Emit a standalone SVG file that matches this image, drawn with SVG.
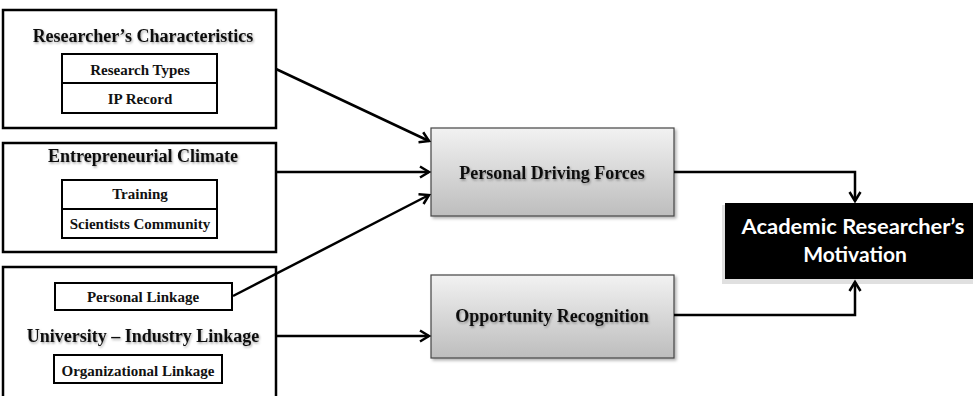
<svg xmlns="http://www.w3.org/2000/svg" width="973" height="396" viewBox="0 0 973 396">
<style>
.outer{fill:#fff;stroke:#000;stroke-width:2.5}
.inner{fill:#fff;stroke:#000;stroke-width:2}
.grad{fill:url(#g);stroke:#444;stroke-width:1.2}
.t{font-family:"Liberation Serif",serif;font-weight:bold;text-anchor:middle;fill:#111}
.tt{font-size:18px;filter:url(#ts)}
.ti{font-size:15px}
.w{font-family:Lato,"Open Sans",sans-serif;font-weight:bold;font-size:21px;fill:#fff;text-anchor:middle}
.c{fill:none;stroke:#000;stroke-width:2.5}
</style>
<defs>
<linearGradient id="g" x1="0" y1="0" x2="0" y2="1">
<stop offset="0" stop-color="#f2f2f2"/>
<stop offset="1" stop-color="#bdbdbd"/>
</linearGradient>
<filter id="ts" x="-5%" y="-30%" width="110%" height="160%">
<feDropShadow dx="1" dy="1.5" stdDeviation="1" flood-color="#000" flood-opacity="0.35"/>
</filter>
<filter id="bs" x="-5%" y="-10%" width="115%" height="125%">
<feDropShadow dx="2" dy="2" stdDeviation="1.5" flood-color="#000" flood-opacity="0.3"/>
</filter>
<marker id="a" markerUnits="userSpaceOnUse" markerWidth="14" markerHeight="14" refX="11" refY="7" orient="auto">
<path d="M2,1.5 L11,7 L2,12.5" fill="none" stroke="#000" stroke-width="2.5"/>
</marker>
</defs>

<g id="researchers-characteristics">
<rect class="outer" x="3" y="10" width="273" height="118"/>
<text class="t tt" x="143" y="42">Researcher’s Characteristics</text>
<rect class="inner" x="62" y="54" width="155" height="59"/>
<line x1="62" y1="83" x2="217" y2="83" stroke="#000" stroke-width="2"/>
<text class="t ti" x="140" y="75">Research Types</text>
<text class="t ti" x="140" y="104">IP Record</text>
</g>

<g id="entrepreneurial-climate">
<rect class="outer" x="3" y="143" width="273" height="109"/>
<text class="t tt" x="143" y="162">Entrepreneurial Climate</text>
<rect class="inner" x="62" y="180" width="155" height="58"/>
<line x1="62" y1="209" x2="217" y2="209" stroke="#000" stroke-width="2"/>
<text class="t ti" x="140" y="199">Training</text>
<text class="t ti" x="140" y="229">Scientists Community</text>
</g>

<g id="university-industry-linkage">
<rect class="outer" x="3" y="267" width="273" height="140"/>
<rect class="inner" x="55" y="283" width="177" height="27"/>
<text class="t ti" x="143" y="302">Personal Linkage</text>
<text class="t tt" x="143" y="342">University – Industry Linkage</text>
<rect class="inner" x="54" y="355" width="168" height="28"/>
<text class="t ti" x="138" y="376">Organizational Linkage</text>
</g>

<g id="personal-driving-forces">
<rect class="grad" x="431" y="128" width="243" height="88" filter="url(#bs)"/>
<text class="t tt" x="552" y="179">Personal Driving Forces</text>
</g>

<g id="opportunity-recognition">
<rect class="grad" x="431" y="275" width="243" height="83" filter="url(#bs)"/>
<text class="t tt" x="552" y="322">Opportunity Recognition</text>
</g>

<g id="academic-motivation">
<rect x="722" y="205" width="255" height="79" fill="#e0e0e0"/>
<rect x="725" y="203" width="250" height="76" fill="#000"/>
<text class="w" x="853" y="234" textLength="223" lengthAdjust="spacingAndGlyphs">Academic Researcher’s</text>
<text class="w" x="855" y="262">Motivation</text>
</g>

<g id="connectors">
<line class="c" x1="276" y1="69" x2="429" y2="141" marker-end="url(#a)"/>
<line class="c" x1="276" y1="172" x2="429" y2="172" marker-end="url(#a)"/>
<line class="c" x1="233" y1="296" x2="429" y2="195" marker-end="url(#a)"/>
<line class="c" x1="276" y1="336" x2="429" y2="336" marker-end="url(#a)"/>
<polyline class="c" points="674,172 855,172 855,201" marker-end="url(#a)"/>
<polyline class="c" points="674,315 855,315 855,282" marker-end="url(#a)"/>
</g>
</svg>
